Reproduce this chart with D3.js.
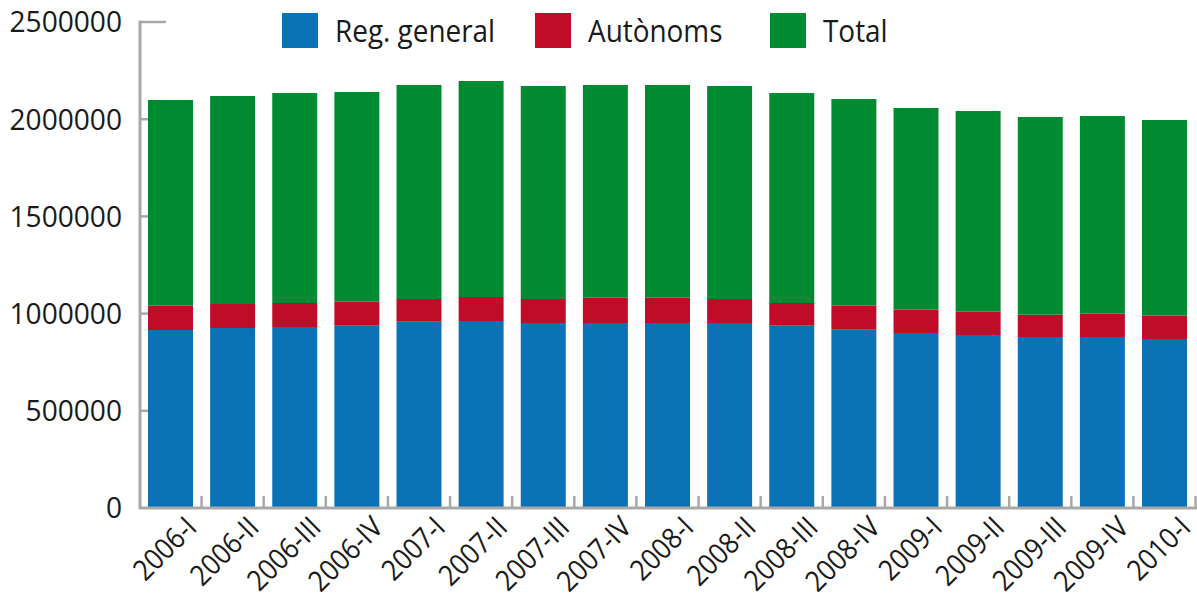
<!DOCTYPE html>
<html><head><meta charset="utf-8">
<script src="https://cdn.jsdelivr.net/npm/d3@7"></script>
<style>body{margin:0;background:#fff}svg{display:block}text{font-family:"Open Sans",sans-serif;fill:#1a1a1a}</style>
</head><body><svg id="c" width="1197" height="607"></svg>
<script>
const categories = ["2006-I","2006-II","2006-III","2006-IV","2007-I","2007-II","2007-III","2007-IV","2008-I","2008-II","2008-III","2008-IV","2009-I","2009-II","2009-III","2009-IV","2010-I"];
const regGeneral = [915600,925900,931100,937800,958300,961900,951600,951600,951600,951600,937800,917200,900200,889900,879600,879600,869300];
const autonoms   = [125000,123500,123400,123400,116800,123500,123500,130200,130200,123500,116700,123400,119900,119900,114700,119900,119900];
const total      = [1058200,1069900,1080300,1078700,1100800,1111100,1095700,1094100,1094100,1095700,1080300,1063300,1037500,1032400,1017000,1017000,1006700];
const yTicks = [0,500000,1000000,1500000,2000000,2500000];
const seriesNames = ["Reg. general","Autònoms","Total"];
const colors = ["#0b72b6","#be0c29","#008a31"];

const svg = d3.select("#c");
const y = d3.scaleLinear().domain([0,2500000]).range([508,22]);
const x = d3.scaleBand().domain(categories).range([148,1187]).paddingInner(0.276).paddingOuter(0);

const rows = categories.map((c,i)=>({cat:c,reg:regGeneral[i],aut:autonoms[i],tot:total[i]}));
const stack = d3.stack().keys(["reg","aut","tot"])(rows);

svg.append("g").selectAll("g").data(stack).join("g")
  .attr("fill",(d,i)=>colors[i])
  .selectAll("rect").data(d=>d).join("rect")
  .attr("x",d=>x(d.data.cat)).attr("width",x.bandwidth())
  .attr("y",d=>y(d[1])).attr("height",d=>y(d[0])-y(d[1]));

const axisCol = "#a8a8a8";
// y axis
svg.append("line").attr("x1",140).attr("x2",140).attr("y1",y(2500000)-1.5).attr("y2",y(0)+1)
  .attr("stroke",axisCol).attr("stroke-width",3);
svg.append("g").selectAll("line").data(yTicks.filter(v=>v>0)).join("line")
  .attr("x1",140).attr("x2",d=>d===2500000?166:148)
  .attr("y1",d=>y(d)).attr("y2",d=>y(d))
  .attr("stroke",axisCol).attr("stroke-width",2.5);
svg.append("g").selectAll("text").data(yTicks).join("text")
  .attr("transform",d=>`translate(122,${y(d)}) scale(0.97,1)`)
  .attr("dy","0.36em").attr("text-anchor","end").attr("font-size",29)
  .text(d=>d3.format("d")(d));

// x axis
svg.append("line").attr("x1",139).attr("x2",1197).attr("y1",y(0)).attr("y2",y(0))
  .attr("stroke",axisCol).attr("stroke-width",3);
const gap = x.step()-x.bandwidth();
svg.append("g").selectAll("line").data(categories).join("line")
  .attr("x1",d=>x(d)+x.bandwidth()+gap/2).attr("x2",d=>x(d)+x.bandwidth()+gap/2)
  .attr("y1",y(0)).attr("y2",y(0)-12)
  .attr("stroke",axisCol).attr("stroke-width",2.5);
svg.append("g").selectAll("text").data(categories).join("text")
  .attr("transform",d=>`translate(${x(d)+x.bandwidth()/2+28},529) rotate(-45) scale(0.9,1)`)
  .attr("text-anchor","end").attr("font-size",29)
  .text(d=>d);

// legend
const legX = [282,535,770];
const lg = svg.append("g").selectAll("g").data(seriesNames).join("g");
lg.append("rect").attr("x",(d,i)=>legX[i]).attr("y",13).attr("width",36).attr("height",35)
  .attr("fill",(d,i)=>colors[i]);
lg.append("text").attr("transform",(d,i)=>`translate(${legX[i]+53},42) scale(0.9,1)`)
  .attr("font-size",31).text(d=>d);
</script></body></html>
